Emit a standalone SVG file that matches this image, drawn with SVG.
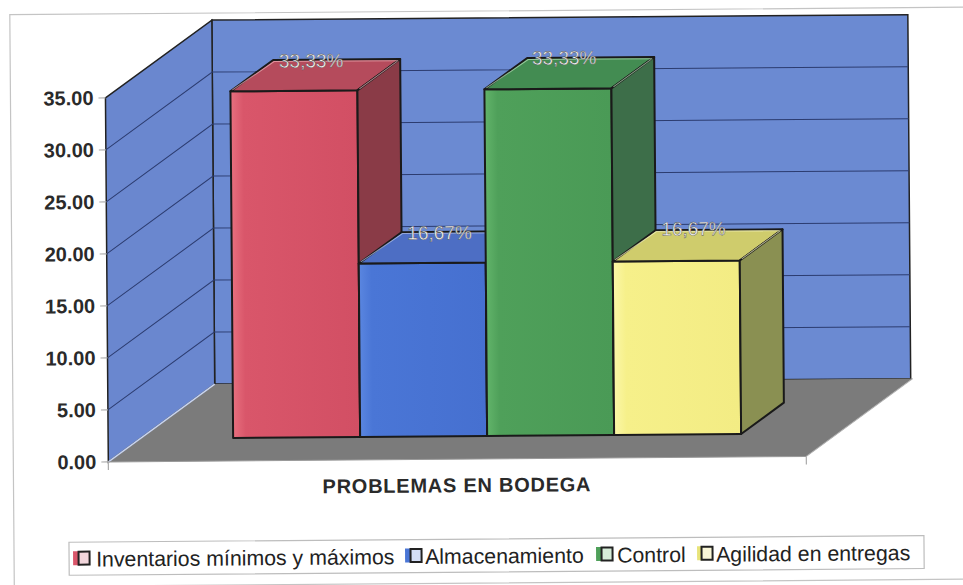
<svg xmlns="http://www.w3.org/2000/svg" width="963" height="585" viewBox="0 0 963 585">
<defs>
<style>
.ax{font-family:"Liberation Sans",Arial,sans-serif;font-weight:bold;font-size:20px;fill:#2a2a2a}
.lg{font-family:"Liberation Sans",Arial,sans-serif;font-size:21.3px;fill:#222}
.pct{font-family:"Liberation Sans",Arial,sans-serif;font-size:19px;fill:#f4f4f4;stroke:#4a4a4a;stroke-width:0.4}
.grid{stroke:#2c3c70;stroke-width:1;fill:none}
.edge{stroke:#1a1a1a;stroke-width:2;stroke-linejoin:round}
.tick{stroke:#aaa;stroke-width:1.2}
</style>
<linearGradient id="redF" x1="0" x2="1" y1="0" y2="0"><stop offset="0" stop-color="#e8707f"/><stop offset="0.1" stop-color="#d9566a"/><stop offset="1" stop-color="#d24f64"/></linearGradient>
<linearGradient id="bluF" x1="0" x2="1" y1="0" y2="0"><stop offset="0" stop-color="#5a86e0"/><stop offset="0.1" stop-color="#4a76d6"/><stop offset="1" stop-color="#4670d0"/></linearGradient>
<linearGradient id="grnF" x1="0" x2="1" y1="0" y2="0"><stop offset="0" stop-color="#62b46a"/><stop offset="0.1" stop-color="#4fa05a"/><stop offset="1" stop-color="#4a9a56"/></linearGradient>
<linearGradient id="yelF" x1="0" x2="1" y1="0" y2="0"><stop offset="0" stop-color="#fbf7a8"/><stop offset="0.1" stop-color="#f6f08a"/><stop offset="1" stop-color="#f3ec84"/></linearGradient>
</defs>
<rect x="0" y="0" width="963" height="585" fill="#ffffff"/>
<g transform="rotate(-0.45 481 292)">
<rect x="12" y="11" width="985" height="572" fill="none" stroke="#c4c4c4" stroke-width="1.2"/>

<g id="walls">
<polygon points="214,18 910,18 910,382 214,382" fill="#6b8ad2" stroke="#222" stroke-width="1.5"/>
<polygon points="107,95 214,18 214,382 107,459" fill="#6a87cf" stroke="#222" stroke-width="1.5"/>
<polygon points="107,459 214,382 912,382 805,459" fill="#7b7b7b"/>
<line x1="107" y1="459" x2="214" y2="382" stroke="#c8d4f0" stroke-width="1.5"/>
<line x1="107" y1="459" x2="805" y2="459" stroke="#9a9a9a" stroke-width="1"/>
<line x1="805" y1="459" x2="912" y2="382" stroke="#b0b0b0" stroke-width="1"/>
</g>

<g id="gridlines">
<path class="grid" d="M107,147 L214,70 L910,70 M107,199 L214,122 L910,122 M107,251 L214,174 L910,174 M107,303 L214,226 L910,226 M107,355 L214,278 L910,278 M107,407 L214,330 L910,330"/>
</g>

<g id="axis">
<path class="tick" d="M100,95 H107 M100,147 H107 M100,199 H107 M100,251 H107 M100,303 H107 M100,355 H107 M100,407 H107 M100,459 H107 M107,459 V467 M805,459 V467"/>
<text class="ax" x="95" y="102" text-anchor="end">35.00</text>
<text class="ax" x="95" y="154" text-anchor="end">30.00</text>
<text class="ax" x="95" y="206" text-anchor="end">25.00</text>
<text class="ax" x="95" y="258" text-anchor="end">20.00</text>
<text class="ax" x="95" y="310" text-anchor="end">15.00</text>
<text class="ax" x="95" y="362" text-anchor="end">10.00</text>
<text class="ax" x="95" y="414" text-anchor="end">5.00</text>
<text class="ax" x="95" y="466" text-anchor="end">0.00</text>
<text class="ax" x="455" y="492" text-anchor="middle" textLength="268" lengthAdjust="spacing">PROBLEMAS EN BODEGA</text>
</g>

<g id="bar-inventarios">
<rect class="edge" x="232" y="89.4" width="127" height="346.6" fill="url(#redF)"/>
<polygon class="edge" points="232,89.4 359,89.4 402,58.4 275,58.4" fill="#b54b5c"/>
<polygon class="edge" points="359,89.4 402,58.4 402,405 359,436" fill="#8a3b47"/>
<path d="M234,88 L276,60 L400,60 M361,88 L400,60" stroke="#f0b0b8" stroke-width="1" fill="none" opacity="0.7"/>
<text class="pct" x="313" y="66" text-anchor="middle">33,33%</text>
</g>

<g id="bar-almacenamiento">
<rect class="edge" x="359" y="262.6" width="127" height="173.4" fill="url(#bluF)"/>
<polygon class="edge" points="359,262.6 486,262.6 529,231.6 402,231.6" fill="#4d6ec4"/>
<polygon class="edge" points="486,262.6 529,231.6 529,405 486,436" fill="#34539c"/>
<path d="M361,261 L403,233 L527,233" stroke="#b8c8f0" stroke-width="1" fill="none" opacity="0.7"/>
<text class="pct" x="440" y="239" text-anchor="middle">16,67%</text>
</g>

<g id="bar-control">
<rect class="edge" x="486" y="89.4" width="127" height="346.6" fill="url(#grnF)"/>
<polygon class="edge" points="486,89.4 613,89.4 656,58.4 529,58.4" fill="#438c52"/>
<polygon class="edge" points="613,89.4 656,58.4 656,405 613,436" fill="#3d6e49"/>
<path d="M488,88 L530,60 L654,60 M615,88 L654,60" stroke="#b8e0b8" stroke-width="1" fill="none" opacity="0.7"/>
<text class="pct" x="566" y="65" text-anchor="middle">33,33%</text>
</g>

<g id="bar-agilidad">
<rect class="edge" x="613" y="262.6" width="127" height="173.4" fill="url(#yelF)"/>
<polygon class="edge" points="613,262.6 740,262.6 783,231.6 656,231.6" fill="#cfcc6c"/>
<polygon class="edge" points="740,262.6 783,231.6 783,405 740,436" fill="#8a9052"/>
<path d="M615,261 L657,233 L781,233 M742,261 L781,233" stroke="#f4f4c0" stroke-width="1" fill="none" opacity="0.7"/>
<text class="pct" x="694" y="237" text-anchor="middle">16,67%</text>
</g>

<g id="legend">
<rect x="67" y="539" width="855" height="33" fill="#ffffff" stroke="#bdbdbd" stroke-width="1.2"/>
<rect x="71" y="548" width="7" height="14" fill="#d9566a"/>
<rect x="76.5" y="548.5" width="11" height="13" fill="#f2d6dc" stroke="#222" stroke-width="2"/>
<text class="lg" x="94" y="563.5">Inventarios mínimos y máximos</text>
<rect x="403" y="548" width="7" height="14" fill="#4a76d6"/>
<rect x="408.5" y="548.5" width="11" height="13" fill="#d4def6" stroke="#222" stroke-width="2"/>
<text class="lg" x="423" y="563.5">Almacenamiento</text>
<rect x="594" y="548" width="7" height="14" fill="#4fa05a"/>
<rect x="599.5" y="548.5" width="11" height="13" fill="#d6ecd8" stroke="#222" stroke-width="2"/>
<text class="lg" x="615" y="563.5">Control</text>
<rect x="695" y="548" width="7" height="14" fill="#e8e47a"/>
<rect x="699.5" y="548.5" width="11" height="13" fill="#fbf8d8" stroke="#222" stroke-width="2"/>
<text class="lg" x="714" y="563.5">Agilidad en entregas</text>
</g>
</g>
</svg>
